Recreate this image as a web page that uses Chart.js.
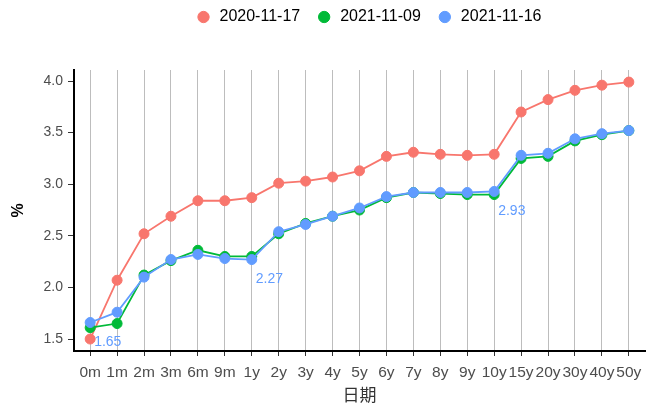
<!DOCTYPE html>
<html>
<head>
<meta charset="utf-8">
<script src="https://cdn.jsdelivr.net/npm/chart.js@4"></script>
<style>
  html, body { margin: 0; padding: 0; background: #fff; }
  #wrap { width: 651px; height: 405px; }
</style>
</head>
<body>
<div id="wrap"><canvas id="yields"></canvas></div>
<script>
// tenors on the x axis
var tenors = ['0m','1m','2m','3m','6m','9m','1y','2y','3y','4y','5y','6y','7y','8y','9y','10y','15y','20y','30y','40y','50y'];

// yields (%)
var y20201117 = [1.50,2.07,2.52,2.69,2.84,2.84,2.87,3.01,3.03,3.07,3.13,3.27,3.31,3.29,3.28,3.29,3.70,3.82,3.91,3.96,3.99];
var y20211109 = [1.61,1.65,2.12,2.26,2.36,2.30,2.30,2.52,2.62,2.69,2.75,2.87,2.92,2.91,2.90,2.90,3.25,3.27,3.42,3.48,3.52];
var y20211116 = [1.66,1.76,2.10,2.27,2.32,2.28,2.27,2.54,2.61,2.69,2.77,2.88,2.92,2.92,2.92,2.93,3.28,3.30,3.44,3.49,3.52];

// which points of the latest curve get a value label
var labelled = [0, 6, 15];
var labelText = ['1.65', '2.27', '2.93'];

var yTicks = [1.5, 2.0, 2.5, 3.0, 3.5, 4.0];

function toPoints(arr) {
  return arr.map(function(v, i) { return {x: i, y: v}; });
}

// value labels next to the blue curve
var valueLabels = {
  id: 'valueLabels',
  afterDatasetsDraw: function(chart) {
    var ctx = chart.ctx;
    var xs = chart.scales.x, ys = chart.scales.y;
    ctx.save();
    ctx.fillStyle = '#619CFF';
    ctx.font = '14px "Liberation Sans", Arial, sans-serif';
    ctx.textAlign = 'left';
    ctx.textBaseline = 'middle';
    labelled.forEach(function(idx, k) {
      var px = xs.getPixelForValue(idx);
      var py = ys.getPixelForValue(y20211116[idx]);
      ctx.fillText(labelText[k], px + 4, py + 20);
    });
    ctx.restore();
  }
};

// legend sits high with a gap below it, centred a bit right of the panel centre
var legendPlace = {
  id: 'legendPlace',
  beforeUpdate: function(chart) {
    var lg = chart.legend;
    if (lg && !lg._gapPatched) {
      var fit = lg.fit;
      lg.fit = function() { fit.call(this); this.height = 77; };
      lg._gapPatched = true;
    }
  },
  afterLayout: function(chart) {
    var lg = chart.legend, ca = chart.chartArea;
    var centre = (ca.left + ca.right) / 2 + 9;
    lg.left = 2 * centre - lg.right;
  }
};

Chart.defaults.font.family = '"Liberation Sans", Arial, sans-serif';
Chart.defaults.animation = false;

function series(label, data, colour, order) {
  return {
    label: label,
    data: toPoints(data),
    order: order,
    borderColor: colour,
    backgroundColor: colour,
    borderWidth: 1.8,
    pointRadius: 5,
    pointBorderWidth: 1,
    pointHoverRadius: 5,
    pointStyle: 'circle',
    tension: 0
  };
}

var chart = new Chart('yields', {
  type: 'line',
  data: {
    datasets: [
      series('2020-11-17', y20201117, '#F8766D', 3),
      series('2021-11-09', y20211109, '#00BA38', 2),
      series('2021-11-16', y20211116, '#619CFF', 1)
    ]
  },
  options: {
    responsive: true,
    maintainAspectRatio: false,
    layout: { padding: { left: 4, right: 1, top: -7, bottom: 0 } },
    plugins: {
      legend: {
        position: 'top',
        labels: {
          usePointStyle: true,
          pointStyle: 'circle',
          boxWidth: 16,
          boxHeight: 8,
          color: '#000',
          font: { size: 16 },
          padding: 16,
          sort: function(a, b) { return a.datasetIndex - b.datasetIndex; }
        }
      },
      tooltip: { enabled: false }
    },
    scales: {
      x: {
        type: 'linear',
        min: -0.6,
        max: 20.6,
        afterBuildTicks: function(s) {
          s.ticks = tenors.map(function(t, i) { return {value: i}; });
        },
        afterFit: function(s) { s.height = 54; },
        ticks: {
          autoSkip: false,
          maxRotation: 0,
          color: '#4D4D4D',
          font: { size: 15.5 },
          padding: 7,
          callback: function(v) { return tenors[v]; }
        },
        grid: { color: '#BDBDBD', lineWidth: 1, tickColor: '#333', tickLength: 5 },
        border: { color: '#000', width: 2 },
        title: {
          display: true,
          text: '日期',
          color: '#333',
          font: { family: '"Noto Sans CJK SC", sans-serif', size: 17 },
          padding: { top: 2, bottom: 0 }
        }
      },
      y: {
        min: 1.384,
        max: 4.107,
        afterBuildTicks: function(s) {
          s.ticks = yTicks.map(function(v) { return {value: v}; });
        },
        afterFit: function(s) { s.width = 70; },
        ticks: {
          color: '#4D4D4D',
          font: { size: 14 },
          padding: 5,
          callback: function(v) { return v.toFixed(1); }
        },
        grid: { drawOnChartArea: false, tickColor: '#333', tickLength: 6 },
        border: { color: '#000', width: 2 },
        title: {
          display: true,
          text: '%',
          color: '#000',
          font: { size: 16, weight: 'bold' },
          padding: { top: 5, bottom: 6 }
        }
      }
    }
  },
  plugins: [valueLabels, legendPlace]
});
</script>
</body>
</html>
